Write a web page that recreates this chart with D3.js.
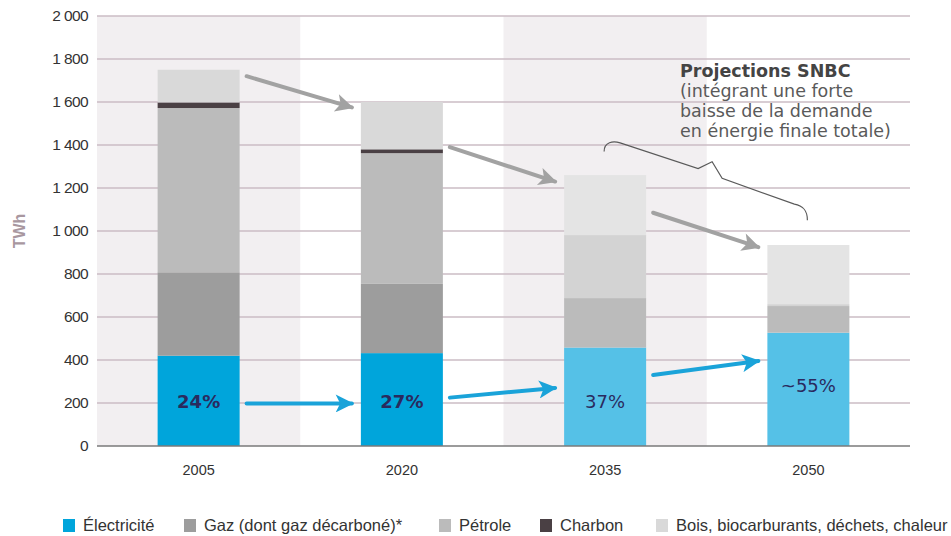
<!DOCTYPE html>
<html>
<head>
<meta charset="utf-8">
<script src="https://cdn.jsdelivr.net/npm/d3@7"></script>
<style>
  body { margin: 0; background: #fff; }
  svg { display: block; }
</style>
</head>
<body>
<div id="chart"></div>
<script>
// data, TWh
var years = ['2005', '2020', '2035', '2050']
var projected = [false, false, true, true]
var electricite = [420, 432, 458, 527]
var gaz = [388, 322, 230, 124]
var petrole = [764, 608, 293, 9]
var charbon = [26, 18, 0, 0]
var bois = [152, 220, 279, 275]
var shares = ['24%', '27%', '37%', '~55%']
var yTicks = [0, 200, 400, 600, 800, 1000, 1200, 1400, 1600, 1800, 2000]

var series = [
    {key: 'elec', name: 'Électricité', values: electricite, col: '#00a5db', colP: '#55c1e7'},
    {key: 'gaz', name: 'Gaz (dont gaz décarboné)*', values: gaz, col: '#9d9d9d', colP: '#bbbbbb'},
    {key: 'petrole', name: 'Pétrole', values: petrole, col: '#bbbbbb', colP: '#d3d3d3'},
    {key: 'charbon', name: 'Charbon', values: charbon, col: '#4a4044', colP: '#4a4044'},
    {key: 'bois', name: 'Bois, biocarburants, déchets, chaleur', values: bois, col: '#d9d9d9', colP: '#e4e4e4'}
]

var rows = years.map(function(y, i) {
    var r = {year: y, proj: projected[i]}
    series.forEach(function(s) { r[s.key] = s.values[i] })
    return r
})

var width = 951, height = 536
var margin = {top: 16, right: 41, bottom: 90, left: 97}

var svg = d3.select('#chart').append('svg')
    .attr('width', width)
    .attr('height', height)

var x = d3.scaleBand()
    .domain(years)
    .range([margin.left, width - margin.right])
    .paddingInner(0)
    .paddingOuter(0)

var y = d3.scaleLinear()
    .domain([0, 2000])
    .range([height - margin.bottom, margin.top])

// alternating background bands
svg.append('g')
    .selectAll('rect')
    .data(years.filter(function(d, i) { return i % 2 == 0 }))
    .join('rect')
    .attr('x', d => x(d))
    .attr('y', y(2000))
    .attr('width', x.bandwidth())
    .attr('height', y(0) - y(2000))
    .attr('fill', '#f2eff1')

// gridlines
svg.append('g')
    .selectAll('line')
    .data(yTicks.slice(1))
    .join('line')
    .attr('x1', margin.left)
    .attr('x2', width - margin.right)
    .attr('y1', d => y(d))
    .attr('y2', d => y(d))
    .attr('stroke', '#cbbcc4')
    .attr('stroke-width', 1.3)

// y axis labels
var yAxis = d3.axisLeft(y).tickValues(yTicks).tickSize(0).tickPadding(9)
    .tickFormat(function(d) { return d >= 1000 ? d3.format(',')(d).replace(',', ' ') : d })
var gy = svg.append('g')
    .attr('transform', 'translate(' + margin.left + ',0)')
    .call(yAxis)
gy.select('.domain').remove()
gy.selectAll('text')
    .attr('font-family', 'Arial, "Liberation Sans", sans-serif')
    .attr('font-size', 15.5)
    .attr('fill', '#333')
    .attr('letter-spacing', -0.6)

svg.append('text')
    .attr('transform', 'translate(25,' + y(1000) + ') rotate(-90)')
    .attr('text-anchor', 'middle')
    .attr('font-family', '"Liberation Sans", Arial, sans-serif')
    .attr('font-weight', 'bold')
    .attr('font-size', 16)
    .attr('fill', '#a8979f')
    .text('TWh')

// stacked bars
var stack = d3.stack().keys(series.map(s => s.key))
var stacked = stack(rows)
var barW = 82

svg.append('g')
    .selectAll('g')
    .data(stacked)
    .join('g')
    .each(function(layer, li) {
        var s = series[li]
        d3.select(this).selectAll('rect')
            .data(layer.filter(d => d[1] - d[0] > 0))
            .join('rect')
            .attr('x', d => x(d.data.year) + x.bandwidth() / 2 - barW / 2)
            .attr('width', barW)
            .attr('y', d => y(d[1]))
            .attr('height', d => y(d[0]) - y(d[1]))
            .attr('fill', d => d.data.proj ? s.colP : s.col)
    })

// baseline
svg.append('line')
    .attr('x1', margin.left)
    .attr('x2', width - margin.right)
    .attr('y1', y(0))
    .attr('y2', y(0))
    .attr('stroke', '#7a7a7a')
    .attr('stroke-width', 1.3)

// x axis labels
var xAxis = d3.axisBottom(x).tickSize(0).tickPadding(19)
var gx = svg.append('g')
    .attr('transform', 'translate(0,' + y(0) + ')')
    .call(xAxis)
gx.select('.domain').remove()
gx.selectAll('text')
    .attr('font-family', 'Arial, "Liberation Sans", sans-serif')
    .attr('font-size', 14.5)
    .attr('fill', '#333')

// share labels in the electricity bars
svg.append('g')
    .selectAll('text')
    .data(rows)
    .join('text')
    .attr('x', d => x(d.year) + x.bandwidth() / 2)
    .attr('y', (d, i) => i == 3 ? y(250) : y(175))
    .attr('text-anchor', 'middle')
    .attr('font-family', '"DejaVu Sans", sans-serif')
    .attr('font-weight', (d, i) => i < 2 ? 'bold' : 'normal')
    .attr('font-size', 18)
    .attr('fill', '#2a2a5e')
    .text((d, i) => shares[i])

// arrows
var defs = svg.append('defs')
function marker(id, col) {
    defs.append('marker')
        .attr('id', id)
        .attr('viewBox', '0 0 10 10')
        .attr('refX', 9)
        .attr('refY', 5)
        .attr('markerWidth', 5.5)
        .attr('markerHeight', 4.5)
        .attr('markerUnits', 'strokeWidth')
        .attr('orient', 'auto')
        .append('path')
        .attr('d', 'M0,0 L10,5 L0,10 L2.5,5 Z')
        .attr('fill', col)
}
marker('headGrey', '#a2a2a2')
marker('headBlue', '#1aa3d9')

var cx = d => x(d) + x.bandwidth() / 2

// grey arrows between totals
var greyArrows = [[0, 1, 1720, 1575], [1, 2, 1390, 1230], [2, 3, 1085, 925]]
svg.append('g')
    .selectAll('line')
    .data(greyArrows)
    .join('line')
    .attr('x1', d => cx(years[d[0]]) + 48)
    .attr('y1', d => y(d[2]))
    .attr('x2', d => cx(years[d[1]]) - 50)
    .attr('y2', d => y(d[3]))
    .attr('stroke', '#a2a2a2')
    .attr('stroke-width', 4)
    .attr('stroke-linecap', 'round')
    .attr('marker-end', 'url(#headGrey)')

// blue arrows between electricity shares
var blueArrows = [[0, 1, 198, 198], [1, 2, 225, 270], [2, 3, 330, 395]]
svg.append('g')
    .selectAll('line')
    .data(blueArrows)
    .join('line')
    .attr('x1', d => cx(years[d[0]]) + 48)
    .attr('y1', d => y(d[2]))
    .attr('x2', d => cx(years[d[1]]) - 50)
    .attr('y2', d => y(d[3]))
    .attr('stroke', '#1aa3d9')
    .attr('stroke-width', 4)
    .attr('stroke-linecap', 'round')
    .attr('marker-end', 'url(#headBlue)')

// curly brace over projections
var b0 = cx('2035'), b1 = cx('2050')
svg.append('path')
    .attr('d', 'M' + (b0 - 1) + ',' + y(1370) +
        ' C' + (b0 - 1) + ',' + y(1415) + ' ' + (b0 + 8) + ',' + y(1420) + ' ' + (b0 + 15) + ',' + y(1410) +
        ' L' + (b0 + 93) + ',' + y(1290) +
        ' L' + (b0 + 107) + ',' + y(1322) +
        ' L' + (b0 + 117) + ',' + y(1245) +
        ' L' + (b1 - 14) + ',' + y(1125) +
        ' C' + (b1 - 6) + ',' + y(1118) + ' ' + (b1 - 1) + ',' + y(1100) + ' ' + (b1 - 1) + ',' + y(1050))
    .attr('fill', 'none')
    .attr('stroke', '#5a5a5a')
    .attr('stroke-width', 1.2)

// annotation
var note = svg.append('text')
    .attr('font-family', '"DejaVu Sans", sans-serif')
    .attr('font-size', 17.5)
    .attr('fill', '#555')
var noteLines = ['Projections SNBC', '(intégrant une forte', 'baisse de la demande', 'en énergie finale totale)']
noteLines.forEach(function(t, i) {
    note.append('tspan')
        .attr('x', 680)
        .attr('y', 77 + i * 20)
        .attr('font-weight', i == 0 ? 'bold' : 'normal')
        .attr('fill', i == 0 ? '#444' : '#5a5a5a')
        .text(t)
})

// legend
var legX = [63, 184, 439, 540, 656]
var leg = svg.append('g')
    .selectAll('g')
    .data(series)
    .join('g')
    .attr('transform', (d, i) => 'translate(' + legX[i] + ',519)')
leg.append('rect')
    .attr('width', 12)
    .attr('height', 13)
    .attr('fill', d => d.col)
leg.append('text')
    .attr('x', 20)
    .attr('y', 12)
    .attr('font-family', '"Liberation Sans Narrow", "Arial Narrow", sans-serif')
    .attr('font-size', 16.5)
    .attr('fill', '#333')
    .text(d => d.name)
</script>
</body>
</html>
